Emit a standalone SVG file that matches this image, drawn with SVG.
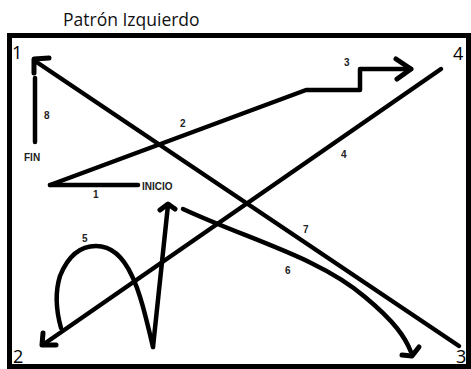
<svg xmlns="http://www.w3.org/2000/svg" width="471" height="369" viewBox="0 0 471 369">
<style>
.ln{fill:none;stroke:#000;stroke-width:4.5;stroke-linecap:round;stroke-linejoin:round}
.ah{fill:none;stroke:#000;stroke-width:5;stroke-linecap:round;stroke-linejoin:round}
.lbl{font-family:"Liberation Sans",Arial,sans-serif;font-weight:bold;font-size:10px;fill:#222}
.corner{font-family:"Open Sans","Noto Sans",sans-serif;font-size:18px;fill:#000}
</style>
<rect width="471" height="369" fill="#fff"/>
<text x="63" y="26" font-family="Open Sans, Noto Sans, sans-serif" font-size="17.5" fill="#111">Patrón Izquierdo</text>
<rect x="9.5" y="35.5" width="459" height="331" fill="none" stroke="#000" stroke-width="5"/>
<g id="corners">
<text class="corner" x="12" y="59">1</text>
<text class="corner" x="453" y="60">4</text>
<text class="corner" x="13" y="363">2</text>
<text class="corner" x="456" y="363">3</text>
</g>
<g id="connectors">
<g id="c1"><path class="ln" d="M50,185 L138,185"/><text class="lbl" x="93" y="198">1</text></g>
<g id="c2"><path class="ln" d="M50,185 L306,90 L360,90 L360,69 L411,69"/><path class="ah" d="M396,59 L411,69 L397,79"/><text class="lbl" x="180" y="127">2</text><text class="lbl" x="344" y="66">3</text></g>
<g id="c4"><path class="ln" d="M441,69 L44,344"/><path class="ah" d="M43,333 L42,345 L56,345"/><text class="lbl" x="341" y="158">4</text></g>
<g id="c5"><path class="ln" d="M153,347 C146,318 140,292 132,276 C122,254 110,246 96,246 C80,246 68,256 60,276 C55,292 56,310 61,328"/><text class="lbl" x="82" y="242">5</text></g>
<g id="cV"><path class="ln" d="M153,347 L168,205"/><path class="ah" d="M160,210 L168,204 L175,209"/></g>
<g id="c6"><path class="ln" d="M183,209 C250,240 320,258 365,297 C395,322 405,337 411,352"/><path class="ah" d="M402,355 L412,356 L419,347"/><text class="lbl" x="285" y="274">6</text></g>
<g id="c7"><path class="ln" d="M459,346 L35,61"/><path class="ah" d="M34,73 L34,59 L49,58"/><text class="lbl" x="303" y="233">7</text></g>
<g id="c8"><path class="ln" d="M35,78 L35,142"/><text class="lbl" x="44" y="119">8</text></g>
</g>
<g id="node-inicio"><text class="lbl" x="142" y="190">INICIO</text></g>
<g id="node-fin"><text class="lbl" x="24" y="161">FIN</text></g>
</svg>
